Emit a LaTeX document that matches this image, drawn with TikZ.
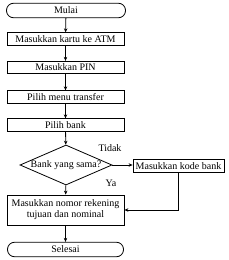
\documentclass[tikz,border=0pt]{standalone}
\usepackage{fontspec}
\setmainfont{Liberation Serif}
\usetikzlibrary{arrows.meta,shapes.geometric}

\begin{document}
\begin{tikzpicture}[x=1pt, y=-1pt, every node/.style={font=\fontsize{10}{11}\selectfont},
	>={Stealth[length=4pt,width=3.5pt]},
	proses/.style={draw, thick, minimum width=117pt, minimum height=12.5pt, inner sep=1pt},
	ujung/.style={draw, thick, rounded corners=7pt, minimum width=119pt, minimum height=14.5pt, inner sep=1pt},
	keputusan/.style={draw, thick, diamond, aspect=2.3, minimum width=92pt, minimum height=40pt, inner sep=0pt}]
	\useasboundingbox (0,0) rectangle (229,260);
	\node[ujung] (mulai) at (66,10.5) {Mulai};
	\node[proses] (kartu) at (65.5,39) {Masukkan kartu ke ATM};
	\node[proses] (pin) at (65.5,67.5) {Masukkan PIN};
	\node[proses] (menu) at (65.5,97) {Pilih menu transfer};
	\node[proses] (bank) at (65.5,125) {Pilih bank};
	\node[keputusan] (sama) at (66,165) {Bank yang sama?};
	\node[proses, minimum width=91pt] (kode) at (178.5,166) {Masukkan kode bank};
	\node[proses, minimum height=30pt, align=center] (rekening) at (65.5,210) {Masukkan nomor rekening\\tujuan dan nominal};
	\node[ujung, minimum width=116pt] (selesai) at (65.5,249.5) {Selesai};
	% label cabang
	\node (tidak) at (110,148) {Tidak};
	\node (ya) at (111,183) {Ya};
	\draw[->, thick] (mulai) -- (kartu);
	\draw[->, thick] (kartu) -- (pin);
	\draw[->, thick] (pin) -- (menu);
	\draw[->, thick] (menu) -- (bank);
	\draw[->, thick] (bank) -- (sama);
	\draw[->, thick] (sama.east) -- (sama.east -| kode.west);
	\draw[->, thick] (sama) -- (rekening);
	\draw[->, thick] (kode.south) |- (rekening.east);
	\draw[->, thick] (rekening) -- (selesai);
\end{tikzpicture}
\end{document}
